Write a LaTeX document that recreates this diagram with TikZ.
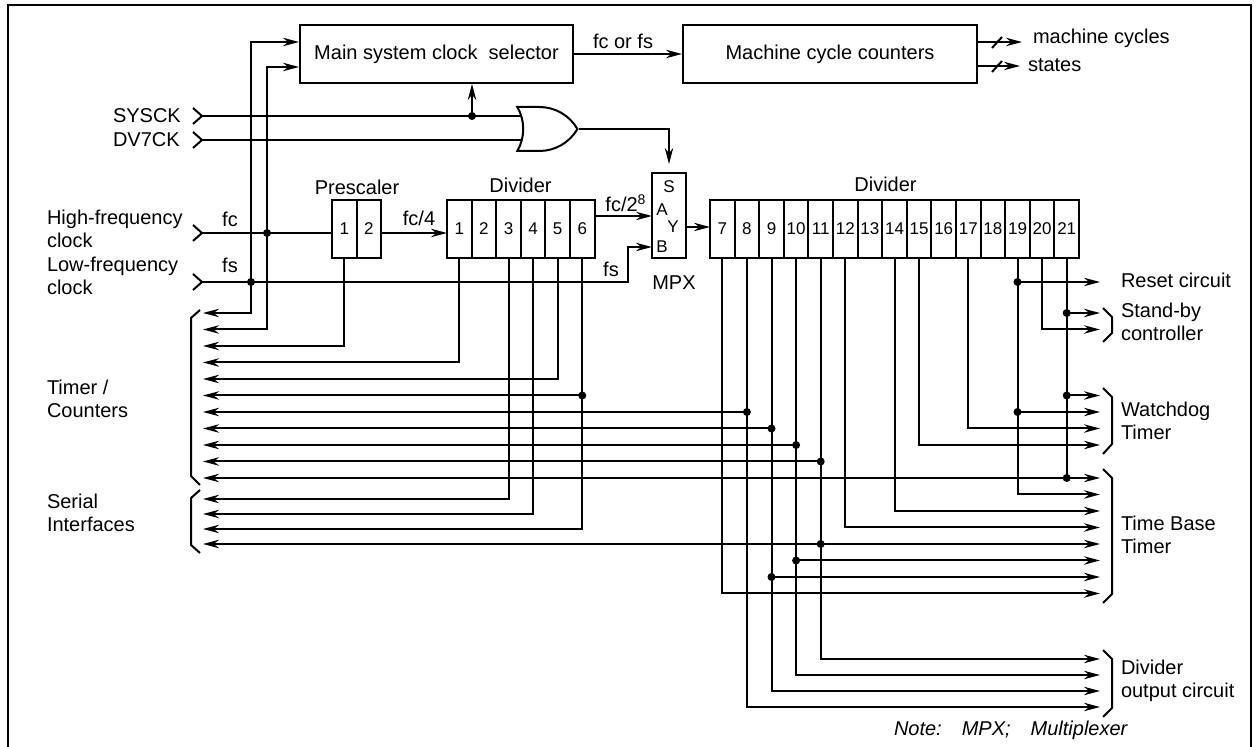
\documentclass[tikz,border=0pt]{standalone}
\usepackage{fontspec}
\setmainfont{Liberation Sans}
\usetikzlibrary{arrows.meta, positioning, shapes.gates.logic.US}

\begin{document}
\begin{tikzpicture}[
    x=0.5pt, y=-0.5pt,
    font=\fontsize{10}{11.5}\selectfont,
    line width=1pt,
    block/.style={rectangle, draw, minimum height=29pt, inner sep=0pt},
    cell/.style={rectangle, draw, minimum width=12.3pt, minimum height=28.8pt, inner sep=0pt, outer sep=0pt,
                 font=\fontsize{8.5}{9}\selectfont},
    mpxpin/.style={inner sep=0pt, font=\fontsize{8.5}{9}\selectfont},
    arr/.style={-{Stealth[length=8pt, width=4.2pt, inset=2.6pt]}},
    lbl/.style={inner sep=0pt},
    sidelbl/.style={inner sep=0pt, anchor=west, align=left}
]
    \useasboundingbox (0,0) rectangle (1254,747);
    \draw (8,747) -- (8,5) -- (1251,5) -- (1251,747);

    % Clock selector and machine cycle counters
    \node[block, minimum width=136.5pt] (sel) at (436.5,54) {Main system clock\ \ selector};
    \node[block, minimum width=147pt] (mcc) at (830,54) {Machine cycle counters};
    \draw[arr] (sel) -- (mcc);
    \node[lbl, anchor=base] (fcfs) at (623,49) {fc or fs};

    \coordinate (mcyc) at (1022,42);
    \coordinate (mst) at (1020,66);
    \draw[arr] (mcc.east |- mcyc) -- (mcyc);
    \draw[arr] (mcc.east |- mst) -- (mst);
    \draw ([xshift=-12.5pt]mcyc) ++(-5,6) -- ++(10,-11);
    \draw ([xshift=-11.5pt]mst) ++(-5,6) -- ++(10,-11);
    \node[lbl, anchor=base west] (mcyclbl) at (1032,44) {machine cycles};
    \node[lbl, anchor=base west] (stlbl) at (1027,72) {states};

    % Inputs
    \coordinate (sysck) at (202,116);
    \coordinate (dv7ck) at (202,140);
    \coordinate (hfin) at (202,233);
    \coordinate (lfin) at (202,282);
    \draw (sysck) ++(-9,-8) -- ++(9,8) -- ++(-9,8);
    \draw (dv7ck) ++(-9,-8) -- ++(9,8) -- ++(-9,8);
    \draw (hfin) ++(-9,-8) -- ++(9,8) -- ++(-9,8);
    \draw (lfin) ++(-9,-8) -- ++(9,8) -- ++(-9,8);
    \node[lbl, anchor=base west] (sysckl) at (112,123) {SYSCK};
    \node[lbl, anchor=base west] (dv7ckl) at (112,147) {DV7CK};
    \node[sidelbl] (hflbl) at (46,229) {High-frequency\\clock};
    \node[sidelbl] (lflbl) at (46,275.5) {Low-frequency\\clock};
    \node[lbl, anchor=base] (fclbl) at (230,227) {fc};
    \node[lbl, anchor=base] (fslbl) at (230,273) {fs};

    % OR gate and MPX
    \node[or gate US, draw, logic gate inputs=nn, minimum width=30pt, minimum height=22pt, inner sep=0pt] (orgate) at (543,129) {};
    \node[rectangle, draw, minimum width=17pt, minimum height=42.5pt, inner sep=0pt] (mpx) at (669,215.5) {};
    \node[mpxpin] (pins) at (669,186.5) {S};
    \node[mpxpin] (pina) at (662,209.5) {A};
    \node[mpxpin] (piny) at (673,227) {Y};
    \node[mpxpin] (pinb) at (662,246.5) {B};
    \node[lbl, anchor=base] (mpxlbl) at (674,290) {MPX};

    % Prescaler
    \node[cell] (pre1) at (344.3,228.8) {1};
    \node[cell, right=0pt of pre1] (pre2) {2};
    \node[lbl, anchor=base] (prelbl) at (357,195) {Prescaler};

    % Divider 1-6
    \node[cell] (dva1) at (459.3,228.8) {1};
    \node[cell, right=0pt of dva1] (dva2) {2};
    \node[cell, right=0pt of dva2] (dva3) {3};
    \node[cell, right=0pt of dva3] (dva4) {4};
    \node[cell, right=0pt of dva4] (dva5) {5};
    \node[cell, right=0pt of dva5] (dva6) {6};
    \node[lbl, anchor=base] (dvalbl) at (520.5,193) {Divider};

    % Divider 7-21
    \node[cell] (dvb7) at (722.3,228.8) {7};
    \node[cell, right=0pt of dvb7] (dvb8) {8};
    \node[cell, right=0pt of dvb8] (dvb9) {9};
    \node[cell, right=0pt of dvb9] (dvb10) {10};
    \node[cell, right=0pt of dvb10] (dvb11) {11};
    \node[cell, right=0pt of dvb11] (dvb12) {12};
    \node[cell, right=0pt of dvb12] (dvb13) {13};
    \node[cell, right=0pt of dvb13] (dvb14) {14};
    \node[cell, right=0pt of dvb14] (dvb15) {15};
    \node[cell, right=0pt of dvb15] (dvb16) {16};
    \node[cell, right=0pt of dvb16] (dvb17) {17};
    \node[cell, right=0pt of dvb17] (dvb18) {18};
    \node[cell, right=0pt of dvb18] (dvb19) {19};
    \node[cell, right=0pt of dvb19] (dvb20) {20};
    \node[cell, right=0pt of dvb20] (dvb21) {21};
    \node[lbl, anchor=base] (dvblbl) at (885.5,192) {Divider};

    % Row ends
    \foreach \i in {1,...,11} \coordinate (tc\i) at (203,{313+16.5*(\i-1)});
    \foreach \i/\y in {1/499,2/514,3/529,4/544} \coordinate (si\i) at (203,\y);
    \foreach \i in {1,...,8} \coordinate (tb\i) at (1100,{478+16.5*(\i-1)});
    \foreach \i/\y in {1/395.5,2/412,3/428.5,4/445} \coordinate (wd\i) at (1100,\y);
    \foreach \i in {1,...,4} \coordinate (do\i) at (1100,{659+16*(\i-1)});
    \coordinate (sb1) at (1100,313);
    \coordinate (sb2) at (1100,329.5);
    \coordinate (rst) at (1100,282);

    % Clock paths
    \coordinate (fcdot) at (267,233);
    \coordinate (fsdot) at (251,282);
    \coordinate (sysdot) at (472,116);
    \coordinate (fsturn) at (628,282);
    \coordinate (ina) at (652,216);
    \coordinate (inb) at (652,247);
    \coordinate (outy) at (686,227);
    \coordinate (selin1) at ([yshift=6pt]sel.west);
    \coordinate (selin2) at ([yshift=-6.5pt]sel.west);
    \draw (sysck) -- (sysck -| orgate.input 1);
    \draw (dv7ck) -- (dv7ck -| orgate.input 2);
    \draw[arr] (sysdot) -- (sysdot |- sel.south);
    \draw[arr, shorten >=4pt] (orgate.output) -| (mpx.north);
    \draw (hfin) -- (hfin -| pre1.west);
    \draw[arr] (hfin -| pre2.east) -- (hfin -| dva1.west);
    \node[lbl, anchor=base] (fc4lbl) at (419,226) {fc/4};
    \draw[arr] (lfin) -- (fsturn) |- (inb);
    \node[lbl, anchor=base] (fsblbl) at (611,277) {fs};
    \draw[arr] (dva6.east |- ina) -- (ina);
    \node[lbl, anchor=base] (fc28lbl) at (626,212) {fc/2\textsuperscript{8}};
    \draw[arr] (outy) -- (dvb7.west |- outy);
    \draw[arr] (fsdot) |- (selin1);
    \draw[arr] (fsdot) |- (tc1);
    \draw[arr] (fcdot) |- (selin2);
    \draw[arr] (fcdot) |- (tc2);

    % Taps to the left
    \draw[arr] (pre1.south) |- (tc3);
    \draw[arr] (dva1.south) |- (tc4);
    \draw[arr] (dva5.south) |- (tc5);
    \draw[arr] (dva6.south) |- (si3);
    \draw[arr] (dva6.south |- tc6) -- (tc6);
    \draw[arr] (dva3.south) |- (si1);
    \draw[arr] (dva4.south) |- (si2);

    % Taps of divider 7-21
    \draw[arr] (dvb7.south) |- (tb8);
    \draw[arr] (dvb8.south) |- (do4);
    \draw[arr] (dvb8.south |- tc7) -- (tc7);
    \draw[arr] (dvb9.south) |- (do3);
    \draw[arr] (dvb9.south |- tc8) -- (tc8);
    \draw[arr] (dvb9.south |- tb7) -- (tb7);
    \draw[arr] (dvb10.south) |- (do2);
    \draw[arr] (dvb10.south |- tc9) -- (tc9);
    \draw[arr] (dvb10.south |- tb6) -- (tb6);
    \draw[arr] (dvb11.south) |- (do1);
    \draw[arr] (dvb11.south |- tc10) -- (tc10);
    \draw[arr] (dvb11.south |- si4) -- (si4);
    \draw[arr] (dvb11.south |- tb5) -- (tb5);
    \draw[arr] (dvb12.south) |- (tb4);
    \draw[arr] (dvb14.south) |- (tb3);
    \draw[arr] (dvb15.south) |- (wd4);
    \draw[arr] (dvb17.south) |- (wd3);
    \draw[arr] (dvb19.south) |- (tb2);
    \draw[arr] (dvb19.south |- rst) -- (rst);
    \draw[arr] (dvb19.south |- wd2) -- (wd2);
    \draw[arr] (dvb20.south) |- (sb2);
    \draw[arr] (dvb21.south) |- (tb1);
    \draw[arr] (dvb21.south |- tb1) -- (tc11);
    \draw[arr] (dvb21.south |- sb1) -- (sb1);
    \draw[arr] (dvb21.south |- wd1) -- (wd1);

    % Junction dots
    \fill (fcdot) circle (2pt);
    \fill (fsdot) circle (2pt);
    \fill (sysdot) circle (2pt);
    \fill (dva6.south |- tc6) circle (2pt);
    \fill (dvb8.south |- tc7) circle (2pt);
    \fill (dvb9.south |- tc8) circle (2pt);
    \fill (dvb9.south |- tb7) circle (2pt);
    \fill (dvb10.south |- tc9) circle (2pt);
    \fill (dvb10.south |- tb6) circle (2pt);
    \fill (dvb11.south |- tc10) circle (2pt);
    \fill (dvb11.south |- si4) circle (2pt);
    \fill (dvb19.south |- rst) circle (2pt);
    \fill (dvb19.south |- wd2) circle (2pt);
    \fill (dvb21.south |- tb1) circle (2pt);
    \fill (dvb21.south |- sb1) circle (2pt);
    \fill (dvb21.south |- wd1) circle (2pt);

    % Brackets and destinations
    \draw (200,310) -- (191,318) -- (191,476) -- (200,485);
    \draw (200,490) -- (191,498) -- (191,545) -- (200,553);
    \node[sidelbl] (tclbl) at (46,398.5) {Timer /\\Counters};
    \node[sidelbl] (silbl) at (46,512.5) {Serial\\Interfaces};

    \draw (1103,308) -- (1112,317) -- (1112,333) -- (1103,342);
    \draw (1103,388) -- (1112,397) -- (1112,444) -- (1103,454);
    \draw (1103,469) -- (1112,478) -- (1112,594) -- (1103,603);
    \draw (1103,650) -- (1112,659) -- (1112,708) -- (1103,717);
    \node[lbl, anchor=base west] (rstlbl) at (1120,288) {Reset circuit};
    \node[sidelbl] (sblbl) at (1120,321.5) {Stand-by\\controller};
    \node[sidelbl] (wdlbl) at (1120,420.5) {Watchdog\\Timer};
    \node[sidelbl] (tbtlbl) at (1120,535) {Time Base\\Timer};
    \node[sidelbl] (dolbl) at (1120,681) {Divider\\output circuit};

    \node[lbl, anchor=base west] (note) at (893,736) {\itshape Note:\quad MPX;\quad Multiplexer};
\end{tikzpicture}
\end{document}
